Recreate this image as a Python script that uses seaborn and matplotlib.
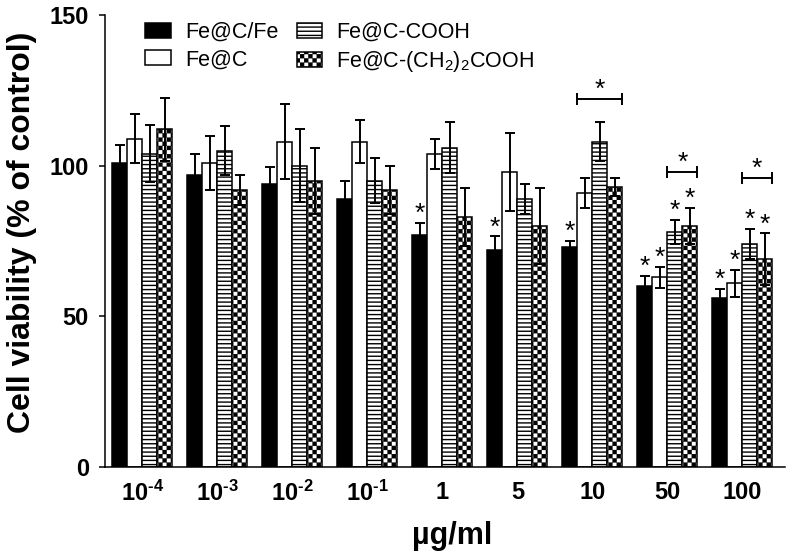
import pandas as pd
import seaborn as sns
import matplotlib.pyplot as plt
import matplotlib.hatch as mhatch
from matplotlib.path import Path

# concentrations (x categories) and tick labels
conc = ['1e-4', '1e-3', '1e-2', '1e-1', '1', '5', '10', '50', '100']
conc_labels = ['10$^{\u20104}$', '10$^{\u20103}$', '10$^{\u20102}$', '10$^{\u20101}$',
               '1', '5', '10', '50', '100']
materials = ['Fe@C/Fe', 'Fe@C', 'Fe@C-COOH', 'Fe@C-(CH$_2$)$_2$COOH']

# mean cell viability (% of control) and error per material
fe_c_fe = [101, 97, 94, 89, 77, 72, 73, 60, 56]
fe_c_fe_err = [6, 7, 5.5, 6, 4, 4.5, 2, 3.5, 3]
fe_c = [109, 101, 108, 108, 104, 98, 91, 63, 61]
fe_c_err = [8, 9, 12.5, 7, 5, 13, 5, 3.5, 4.5]
fe_c_cooh = [104, 105, 100, 95, 106, 89, 108, 78, 74]
fe_c_cooh_err = [9.5, 8, 12, 7.5, 8.5, 5, 6.5, 4, 5]
fe_c_ch2 = [112, 92, 95, 92, 83, 80, 93, 80, 69]
fe_c_ch2_err = [10.5, 5, 11, 8, 9.5, 12.5, 3, 6, 8.5]

# significance stars over single bars (1 = star)
stars_fe_c_fe = [0, 0, 0, 0, 1, 1, 1, 1, 1]
stars_fe_c = [0, 0, 0, 0, 0, 0, 0, 1, 1]
stars_fe_c_cooh = [0, 0, 0, 0, 0, 0, 0, 1, 1]
stars_fe_c_ch2 = [0, 0, 0, 0, 0, 0, 0, 1, 1]

# brackets between materials within a group
bracket_conc = ['10', '50', '100']
bracket_from = [1, 2, 2]
bracket_to = [3, 3, 3]
bracket_y = [122, 98, 96]

means = [fe_c_fe, fe_c, fe_c_cooh, fe_c_ch2]
errs = [fe_c_fe_err, fe_c_err, fe_c_cooh_err, fe_c_ch2_err]
stars = [stars_fe_c_fe, stars_fe_c, stars_fe_c_cooh, stars_fe_c_ch2]


# checkerboard hatch, used in place of the '*' star hatch
class CheckerHatch(mhatch.HatchPatternBase):
    def __init__(self, hatch, density):
        self.n = 2 * int(hatch.count('*') * density / 2)
        self.num_vertices = (self.n * self.n // 2) * 5

    def set_vertices_and_codes(self, vertices, codes):
        s = 1.0 / self.n
        d = 0.006
        k = 0
        for i in range(self.n):
            for j in range(self.n):
                if (i + j) % 2 == 0:
                    x0, y0 = i * s + d, j * s + d
                    x1, y1 = (i + 1) * s - d, (j + 1) * s - d
                    vertices[k:k + 5] = [(x0, y0), (x1, y0), (x1, y1), (x0, y1), (x0, y0)]
                    codes[k:k + 5] = [Path.MOVETO, Path.LINETO, Path.LINETO,
                                      Path.LINETO, Path.CLOSEPOLY]
                    k += 5


mhatch._hatch_types[mhatch._hatch_types.index(mhatch.Stars)] = CheckerHatch

rows = []
for name, vals in zip(materials, means):
    for c, v in zip(conc, vals):
        rows.append({'conc': c, 'viability': v, 'material': name})
df = pd.DataFrame(rows)

sns.set_style('white')
plt.rcParams['font.family'] = ['Liberation Sans', 'DejaVu Sans']
plt.rcParams['mathtext.fontset'] = 'custom'
plt.rcParams['mathtext.rm'] = 'Liberation Sans'
plt.rcParams['mathtext.it'] = 'Liberation Sans:italic'
plt.rcParams['mathtext.bf'] = 'Liberation Sans:bold'
plt.rcParams['mathtext.default'] = 'regular'
plt.rcParams['hatch.linewidth'] = 1.0
for k in ['text.color', 'axes.labelcolor', 'xtick.color', 'ytick.color', 'axes.edgecolor']:
    plt.rcParams[k] = 'black'

fig = plt.figure(figsize=(7.91, 5.55), dpi=100)
ax = fig.add_axes([0.1327, 0.1586, 0.8597, 0.8144])

sns.barplot(data=df, x='conc', y='viability', hue='material', order=conc,
            hue_order=materials, palette=['black', 'white', 'white', 'white'],
            saturation=1, edgecolor='black', linewidth=1.1, errorbar=None,
            legend=False, ax=ax)

hatches = ['', '', '----', '****']
for cont, h in zip(ax.containers, hatches):
    for bar in cont:
        bar.set_hatch(h)

# error bars and stars
for cont, m, e, st in zip(ax.containers, means, errs, stars):
    xs = [b.get_x() + b.get_width() / 2 for b in cont]
    ax.errorbar(xs, m, yerr=e, fmt='none', ecolor='black', elinewidth=1.4,
                capsize=3.3, capthick=1.4)
    for x, v, ev, s in zip(xs, m, e, st):
        if s:
            ax.annotate('*', (x, v + ev), xytext=(0, 1.5), textcoords='offset points',
                        ha='center', va='baseline', fontsize=19)

# brackets
for c, a, b, y in zip(bracket_conc, bracket_from, bracket_to, bracket_y):
    gi = conc.index(c)
    left = ax.containers[a][gi]
    right = ax.containers[b][gi]
    x0 = left.get_x()
    x1 = right.get_x() + right.get_width()
    ax.errorbar((x0 + x1) / 2, y, xerr=(x1 - x0) / 2, fmt='none', ecolor='black',
                elinewidth=1.4, capsize=4.6, capthick=1.4)
    ax.annotate('*', ((x0 + x1) / 2, y), xytext=(0, 1.5), textcoords='offset points',
                ha='center', va='baseline', fontsize=19)

ax.set_xlim(-0.5, 8.57)
ax.set_ylim(0, 150)
ax.set_yticks([0, 50, 100, 150], labels=['0', '50', '100', '150'],
              fontsize=17, fontweight='bold')
ax.set_xticks(range(len(conc)), labels=conc_labels, fontsize=17, fontweight='bold')
ax.tick_params(axis='y', length=4.5, width=1.1, pad=7, left=True)
ax.tick_params(axis='x', length=0, pad=10)
sns.despine(ax=ax)
for sp in ['left', 'bottom']:
    ax.spines[sp].set_linewidth(1.1)

ax.set_ylabel('Cell viability (% of control)', fontsize=23, fontweight='bold')
ax.set_xlabel('µg/ml', fontsize=22, fontweight='bold')
ax.yaxis.set_label_coords(-0.1, 0.52)
ax.xaxis.set_label_coords(0.51, -0.12)

ax.legend(ax.containers, materials, ncol=2, loc='upper left',
          bbox_to_anchor=(0.059, 0.985), frameon=False, fontsize=15.5,
          handlelength=1.2, handleheight=0.72, handletextpad=0.65,
          labelspacing=0.3, columnspacing=0.85, borderpad=0, borderaxespad=0)

fig.savefig('out.png', dpi=100)
